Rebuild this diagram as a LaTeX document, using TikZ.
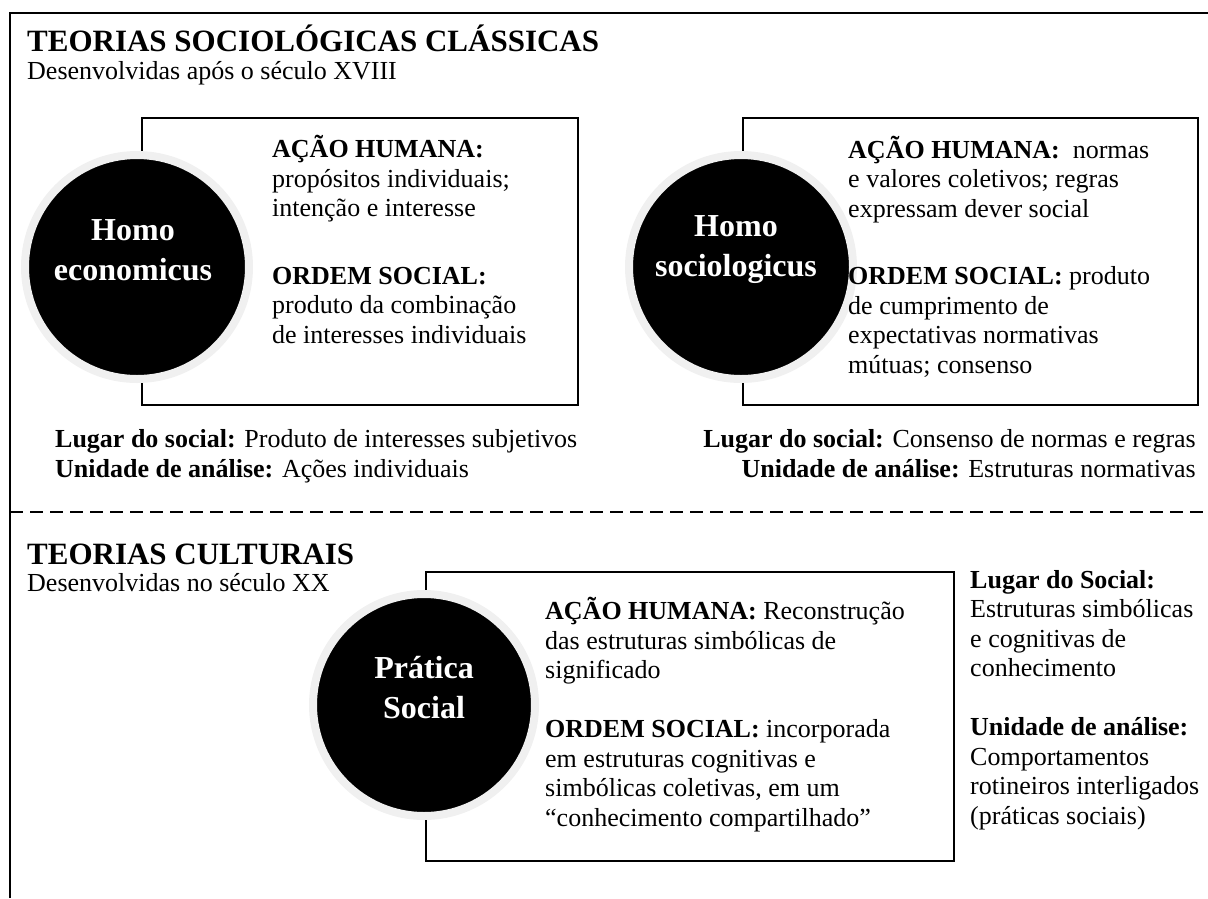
\documentclass[tikz,border=0pt]{standalone}
\usepackage{fontspec}
\setmainfont{Liberation Serif}
\definecolor{ringgray}{RGB}{240,240,240}
\newcommand{\bodyfont}{\fontsize{26}{29.5}\selectfont}
\newcommand{\titlefont}{\fontsize{31}{36}\selectfont\bfseries}
\newcommand{\circfont}{\fontsize{32}{40}\selectfont\bfseries}
\begin{document}
\begin{tikzpicture}[x=1pt, y=-1pt,
  frame/.style={line width=2.8pt},
  box/.style={line width=2.6pt},
  disc/.style={fill=black, draw=ringgray, line width=8pt},
  txt/.style={anchor=base west, inner sep=0pt, align=left, font=\bodyfont},
  rtxt/.style={anchor=base east, inner sep=0pt, align=right, font=\bodyfont},
  ttl/.style={anchor=base west, inner sep=0pt, font=\titlefont},
  lbl/.style={inner sep=0pt, align=center, text=white, font=\circfont}]
\useasboundingbox (0,0) rectangle (1208,898);
% frame and divider
\draw [frame] (10,898) -- (10,13) -- (1208,13);
\draw [frame, dash pattern=on 13pt off 7pt] (10,512) -- (1208,512);
% classic theories (text nodes sit on their last baseline)
\node [ttl] (classTitle) at (27,51) {TEORIAS SOCIOLÓGICAS CLÁSSICAS};
\node [txt] (classSub) at (27,79) {Desenvolvidas após o século XVIII};
\draw [box] (142,118) rectangle (578,405);
\draw [disc] (137,267) circle (112);
\node [lbl] (homoEcon) at (133,250) {Homo\\economicus};
\node [txt] (econText) at (272,343) {\textbf{AÇÃO HUMANA:}\\propósitos individuais;\\intenção e interesse\\[38pt]\textbf{ORDEM SOCIAL:}\\produto da combinação\\de interesses individuais};
\node [txt] (econPlace) at (55,477) {\textbf{Lugar do social:} Produto de interesses subjetivos\\\textbf{Unidade de análise:} Ações individuais};
\draw [box] (743,118) rectangle (1198,405);
\draw [disc] (741,267) circle (112);
\node [lbl] (homoSoc) at (736,250) {Homo\\sociologicus};
\node [txt] (socText) at (848,373) {\textbf{AÇÃO HUMANA:}~ normas\\e valores coletivos; regras\\expressam dever social\\[38pt]\textbf{ORDEM SOCIAL:} produto\\de cumprimento de\\expectativas normativas\\mútuas; consenso};
\node [rtxt] (socPlace) at (1196,477) {\textbf{Lugar do social:} Consenso de normas e regras\\\textbf{Unidade de análise:} Estruturas normativas};
% cultural theories
\node [ttl] (cultTitle) at (27,564) {TEORIAS CULTURAIS};
\node [txt] (cultSub) at (27,591) {Desenvolvidas no século XX};
\draw [box] (426,572) rectangle (954,861);
\draw [disc] (424,705) circle (111);
\node [lbl] (pratica) at (424,688) {Prática\\Social};
\node [txt] (pratText) at (545,826) {\textbf{AÇÃO HUMANA:} Reconstrução\\das estruturas simbólicas de\\significado\\[29.5pt]\textbf{ORDEM SOCIAL:} incorporada\\em estruturas cognitivas e\\simbólicas coletivas, em um\\“conhecimento compartilhado”};
\node [txt] (pratPlace) at (970,824) {\textbf{Lugar do Social:}\\Estruturas simbólicas\\e cognitivas de\\conhecimento\\[29.5pt]\textbf{Unidade de análise:}\\Comportamentos\\rotineiros interligados\\(práticas sociais)};
\end{tikzpicture}
\end{document}
